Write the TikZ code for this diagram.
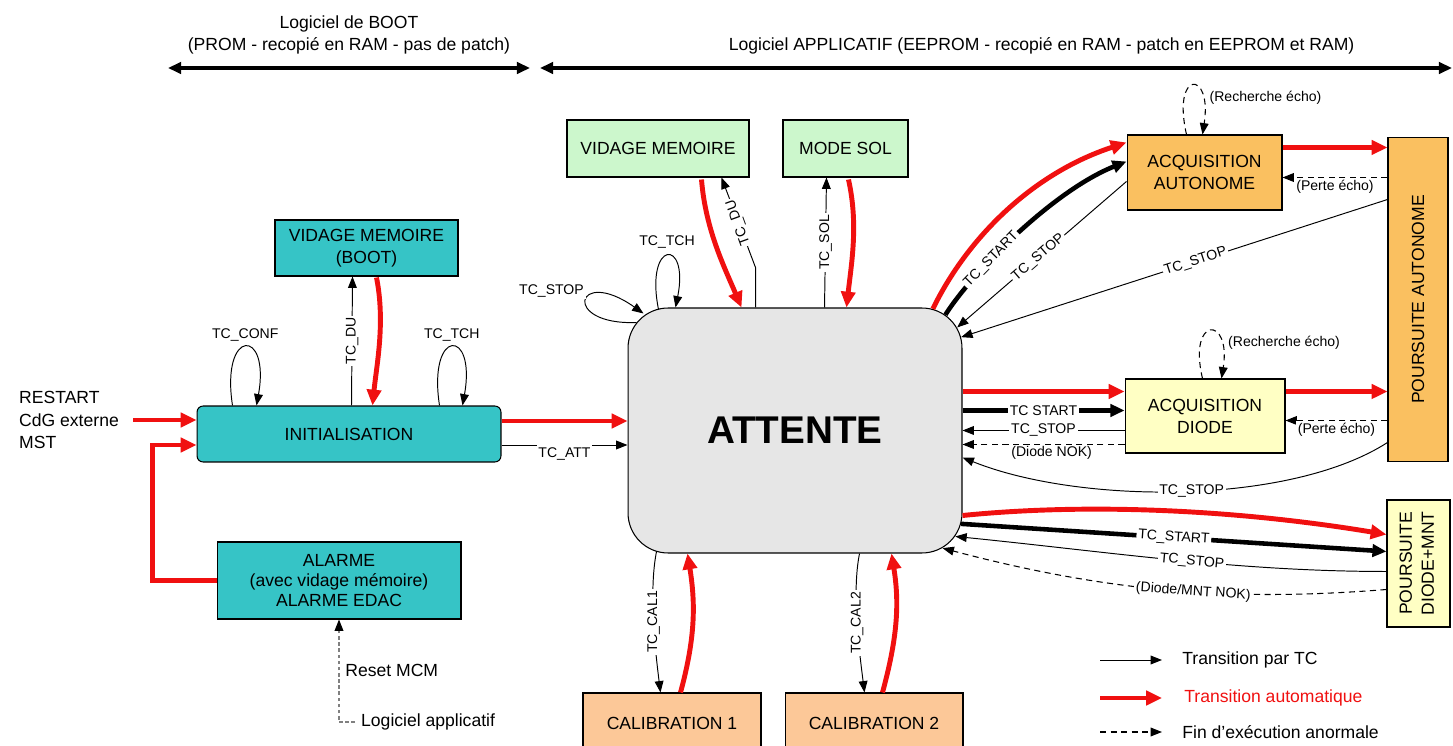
\documentclass[tikz,border=0pt]{standalone}
\usepackage{fontspec}
\setmainfont{Liberation Sans}
\usepackage{xcolor}
\usepackage{graphicx}
\usetikzlibrary{arrows.meta,calc}

\definecolor{tealbox}{RGB}{54,196,198}
\definecolor{greenbox}{RGB}{204,247,204}
\definecolor{orangebox}{RGB}{250,192,96}
\definecolor{yellowbox}{RGB}{255,255,196}
\definecolor{peachbox}{RGB}{252,200,152}
\definecolor{attgray}{RGB}{230,230,230}
\definecolor{autored}{RGB}{240,16,16}

\begin{document}
\begin{tikzpicture}[
    x=0.02cm,
    y=-0.02cm,
    box/.style={
        rectangle,
        draw=black,
        line width=0.6pt,
        align=center,
        inner sep=0pt,
        font=\fontsize{10}{12.5}\selectfont
    },
    tc/.style={
        -{Triangle[length=6.5pt,width=5pt]},
        line width=0.55pt
    },
    tcbold/.style={
        -{Triangle[length=8pt,width=7pt]},
        line width=2.6pt
    },
    autotr/.style={
        -{Triangle[length=9pt,width=8pt]},
        line width=2.8pt,
        draw=autored
    },
    abnormal/.style={
        -{Triangle[length=6.5pt,width=5pt]},
        line width=0.6pt,
        dash pattern=on 3.5pt off 2.5pt
    },
    lbl/.style={
        font=\fontsize{8}{9}\selectfont,
        fill=white,
        inner sep=1pt
    },
    spanarrow/.style={
        {Triangle[length=7.5pt,width=6.5pt]}-{Triangle[length=7.5pt,width=6.5pt]},
        line width=2.6pt
    },
    legendtxt/.style={
        anchor=west,
        xshift=8pt,
        font=\fontsize{10}{12}\selectfont
    }
]

\useasboundingbox (0,0) rectangle (1453,746);

% ---------------- SOFTWARE SPANS ----------------

\coordinate (bootl) at (168,68);
\coordinate (bootr) at (530,68);
\coordinate (appl) at (540,68);
\coordinate (appr) at (1452,68);

\draw[spanarrow] (bootl) -- node[above=3pt, align=center, font=\fontsize{10}{13}\selectfont]
    {Logiciel de BOOT\\(PROM - recopié en RAM - pas de patch)} (bootr);

\draw[spanarrow] (appl) -- node[pos=0.55, above=3pt, font=\fontsize{10}{13}\selectfont]
    {Logiciel APPLICATIF (EEPROM - recopié en RAM - patch en EEPROM et RAM)} (appr);

% ---------------- BOOT ----------------

\node[box, fill=tealbox, minimum width=3.66cm, minimum height=1.12cm] (bootdump)
    at (366.5,248) {VIDAGE MEMOIRE\\(BOOT)};

\node[box, fill=tealbox, rounded corners=3.5pt, minimum width=6.08cm, minimum height=1.12cm] (init)
    at (349,434) {INITIALISATION};

\node[box, fill=tealbox, minimum width=4.88cm, minimum height=1.54cm,
    font=\fontsize{10}{11.5}\selectfont] (alarm)
    at (339,580.5) {ALARME\\(avec vidage mémoire)\\ALARME EDAC};

\node[anchor=west, align=left, font=\fontsize{10}{13}\selectfont] (restart)
    at (13,420) {RESTART\\CdG externe\\MST};

\node[anchor=west, font=\fontsize{10}{12}\selectfont] (applog)
    at (355,722) {Logiciel applicatif};

% ---------------- APPLICATION ----------------

\node[box, fill=attgray, rounded corners=0.8cm, minimum width=6.68cm, minimum height=4.9cm,
    font=\fontsize{22}{26}\selectfont\bfseries] (attente)
    at (795,430.5) {ATTENTE};

\node[box, fill=greenbox, minimum width=3.64cm, minimum height=1.14cm] (dump)
    at (658,148.5) {VIDAGE MEMOIRE};

\node[box, fill=greenbox, minimum width=2.5cm, minimum height=1.14cm] (sol)
    at (845.5,148.5) {MODE SOL};

\node[box, fill=orangebox, minimum width=3.1cm, minimum height=1.5cm] (acqauto)
    at (1204.5,172.5) {ACQUISITION\\AUTONOME};

\node[box, fill=orangebox, minimum width=1.2cm, minimum height=6.5cm] (pourauto)
    at (1418,299.5) {\rotatebox{90}{POURSUITE AUTONOME}};

\node[box, fill=yellowbox, minimum width=3.2cm, minimum height=1.48cm] (acqdiode)
    at (1205,416) {ACQUISITION\\DIODE};

\node[box, fill=yellowbox, minimum width=1.26cm, minimum height=2.54cm] (pourdiode)
    at (1418.5,563.5) {\rotatebox{90}{\begin{tabular}{@{}c@{}}POURSUITE\\DIODE+MNT\end{tabular}}};

\node[box, fill=peachbox, minimum width=3.56cm, minimum height=1.2cm] (cal1)
    at (672,723) {CALIBRATION 1};

\node[box, fill=peachbox, minimum width=3.56cm, minimum height=1.2cm] (cal2)
    at (874,723) {CALIBRATION 2};

% corner centres of ATTENTE
\coordinate (cne) at ($(attente.north east)+(-40,40)$);
\coordinate (cse) at ($(attente.south east)+(-40,-40)$);

% ---------------- BOOT TRANSITIONS ----------------

\draw[autotr] ($(restart.east)+(8,0)$) -- (restart.east -| init.west);

\draw[autotr] (alarm.west) -- ++(-64,0) |- ($(init.west)+(0,11)$);

\draw[draw=gray, line width=0.6pt, dash pattern=on 2pt off 1.5pt,
    -{Triangle[length=6.5pt,width=5pt,color=black]}]
    (applog.west) -| node[pos=0.75, right, font=\fontsize{10}{12}\selectfont]{Reset MCM}
    (alarm.south);

\draw[tc] ($(init.north west)+(155,0)$)
    -- node[lbl, rotate=90]{TC\_DU}
    ($(bootdump.south west)+(78,0)$);

\draw[autotr] ($(bootdump.south west)+(102,1)$)
    .. controls +(9,45) and +(4,-40) ..
    ($(init.north west)+(176,0)$);

\draw[tc] ($(init.north west)+(36,0)$)
    .. controls +(-12,-78) and +(14,-78) ..
    node[above, lbl, yshift=2pt]{TC\_CONF}
    ($(init.north west)+(60,0)$);

\draw[tc] ($(init.north west)+(243,0)$)
    .. controls +(-12,-78) and +(14,-78) ..
    node[above, lbl, yshift=2pt]{TC\_TCH}
    ($(init.north west)+(266,0)$);

\coordinate (initr) at ($(init.east)+(0,-13)$);
\coordinate (inita) at ($(init.east)+(0,11)$);

\draw[autotr] (initr) -- (initr -| attente.west);
\draw[tc] (inita) -- node[below, lbl]{TC\_ATT} (inita -| attente.west);

% ---------------- TOP OF ATTENTE ----------------

\draw[tc] ($(attente.north west)+(9,15)$)
    .. controls +(-76,3) and +(-68,-48) ..
    node[left, lbl, yshift=6pt]{TC\_STOP}
    ($(attente.north west)+(16,6)$);

\draw[tc] ($(attente.north west)+(31,2)$)
    .. controls +(-14,-70) and +(14,-70) ..
    node[above, lbl, yshift=3pt]{TC\_TCH}
    ($(attente.north west)+(48,0)$);

\draw[autotr] ($(dump.south west)+(135,2)$)
    .. controls +(4,50) and +(-17,-40) ..
    ($(attente.north west)+(114,0)$);

\draw[tc] ($(attente.north west)+(128,0)$) -- ++(0,-40)
    -- node[lbl, rotate=110]{TC\_DU}
    ($(dump.south west)+(155,0)$);

\draw[tc] ($(attente.north west)+(197,0)$)
    -- node[lbl, rotate=90]{TC\_SOL}
    ($(sol.south west)+(44,0)$);

\draw[autotr] ($(sol.south west)+(66,2)$)
    .. controls +(10,45) and +(5,-45) ..
    ($(attente.north west)+(219,0)$);

% ---------------- ACQUISITION AUTONOME ----------------

\draw[autotr] ($(cne)+(-75:40)$)
    .. controls +(33,-68) and +(-97,32) ..
    ($(acqauto.north west)+(0,8)$);

\draw[tcbold] ($(cne)+(-55:40)$)
    .. controls +(25,-40) and +(-75,30) ..
    node[lbl, sloped, pos=0.36]{TC\_START}
    ($(acqauto.north west)+(0,27)$);

\draw[tc] ($(acqauto.north west)+(0,47)$)
    -- node[lbl, sloped, pos=0.52]{TC\_STOP}
    ($(cne)+(-30:40)$);

\draw[tc] ($(pourauto.north west)+(0,63)$)
    -- node[lbl, sloped, pos=0.45]{TC\_STOP}
    ($(cne)+(-15:40)$);

\coordinate (aar) at ($(acqauto.north east)+(0,13)$);
\coordinate (pae) at ($(pourauto.north west)+(0,41)$);

\draw[autotr] (aar) -- (aar -| pourauto.west);
\draw[abnormal] (pae) -- node[below, lbl]{(Perte écho)} (pae -| acqauto.east);

\draw[abnormal] ($(acqauto.north west)+(60,0)$)
    .. controls +(-15,-65) and +(10,-65) ..
    node[pos=0.75, right, lbl, xshift=3pt]{(Recherche écho)}
    ($(acqauto.north west)+(76,0)$);

% ---------------- ACQUISITION DIODE ----------------

\coordinate (adr) at ($(acqdiode.north west)+(0,13)$);
\coordinate (ador) at ($(acqdiode.north east)+(0,13)$);
\coordinate (ads) at ($(acqdiode.north west)+(0,32)$);
\coordinate (adt) at ($(acqdiode.north west)+(0,52)$);
\coordinate (adn) at ($(acqdiode.north west)+(0,66)$);
\coordinate (pde) at ($(pourauto.north west)+(0,284)$);

\draw[autotr] (adr -| attente.east) -- (adr);
\draw[autotr] (ador) -- (ador -| pourauto.west);
\draw[tcbold] (ads -| attente.east) -- node[lbl]{TC START} (ads);
\draw[tc] (adt) -- node[lbl]{TC\_STOP} (adt -| attente.east);
\draw[abnormal] (adn) -- node[below, lbl, pos=0.45]{(Diode NOK)} (adn -| attente.east);
\draw[abnormal] (pde) -- node[below, lbl]{(Perte écho)} (pde -| acqdiode.east);

\draw[abnormal] ($(acqdiode.north west)+(78,0)$)
    .. controls +(-15,-63) and +(10,-63) ..
    node[pos=0.75, right, lbl, xshift=3pt]{(Recherche écho)}
    ($(acqdiode.north west)+(97,0)$);

\draw[tc] ($(pourauto.south west)+(0,-20)$)
    .. controls +(-98,63) and +(117,47) ..
    node[lbl, pos=0.48]{TC\_STOP}
    ($(attente.east)+(0,27)$);

% ---------------- POURSUITE DIODE+MNT ----------------

\draw[autotr] ($(attente.east)+(0,85)$)
    .. controls +(150,-15) and +(-120,-20) ..
    ($(pourdiode.north west)+(0,35)$);

\draw[tcbold] ($(cse)+(15:40)$)
    -- node[lbl, sloped]{TC\_START}
    ($(pourdiode.north west)+(0,52)$);

\draw[tc] ($(pourdiode.north west)+(0,72)$)
    .. controls +(-150,0) and +(150,15) ..
    node[lbl, sloped, pos=0.45]{TC\_STOP}
    ($(cse)+(35:40)$);

\draw[abnormal] ($(pourdiode.north west)+(0,90)$)
    .. controls +(-150,12) and +(170,45) ..
    node[lbl, sloped, pos=0.45]{(Diode/MNT NOK)}
    ($(cse)+(60:40)$);

% ---------------- CALIBRATIONS ----------------

\draw[tc] ($(attente.south west)+(29,-2)$)
    .. controls +(-8,40) and +(-5,-40) ..
    node[lbl, rotate=90]{TC\_CAL1}
    ($(cal1.north west)+(78,0)$);

\draw[autotr] ($(cal1.north west)+(98,0)$)
    .. controls +(15,-55) and +(8,50) ..
    ($(attente.south west)+(60,0)$);

\draw[tc] ($(attente.south west)+(232,0)$)
    .. controls +(-8,40) and +(-5,-40) ..
    node[lbl, rotate=90]{TC\_CAL2}
    ($(cal2.north west)+(80,0)$);

\draw[autotr] ($(cal2.north west)+(98,0)$)
    .. controls +(15,-55) and +(8,50) ..
    ($(attente.south west)+(264,0)$);

% ---------------- LEGEND ----------------

\coordinate (lgtc) at (1100,660);
\coordinate (lgauto) at (1100,698);
\coordinate (lgab) at (1100,732);

\draw[tc] (lgtc) -- ++(62,0) node[legendtxt]{Transition par TC};
\draw[autotr] (lgauto) -- ++(62,0) node[legendtxt, text=autored]{Transition automatique};
\draw[abnormal] (lgab) -- ++(62,0) node[legendtxt]{Fin d’exécution anormale};

\end{tikzpicture}
\end{document}
